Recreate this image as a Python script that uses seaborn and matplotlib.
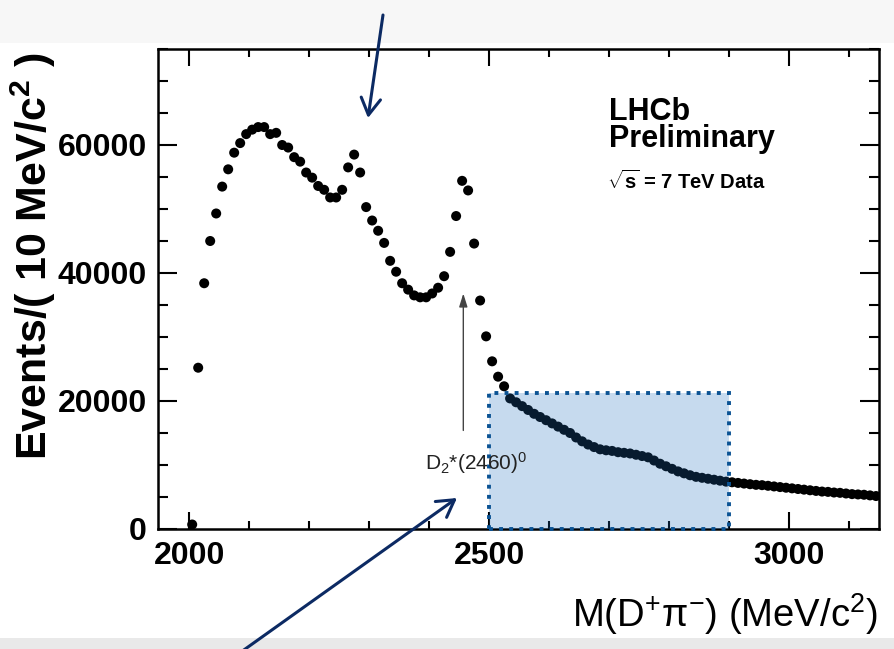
import numpy as np
import pandas as pd
import matplotlib
matplotlib.use("Agg")
import matplotlib.pyplot as plt
from matplotlib.patches import Rectangle
import seaborn as sns

# ---- data (events per 10 MeV/c^2 bin) ----
bin_start = 2005
bin_width = 10
counts = [
    700, 25200, 38400, 45000, 49300, 53500, 56200, 58800, 60300, 61700,
    62400, 62800, 62800, 61700, 61900, 60000, 59600, 58100, 57400, 55700,
    54900, 53600, 53000, 51800, 51800, 53000, 56500, 58500, 55700, 50300,
    48200, 46600, 44700, 41900, 40200, 38400, 37400, 36500, 36200, 36200,
    36800, 37700, 39500, 43300, 48900, 54400, 52900, 44600, 35700, 30100,
    26200, 23800, 22300,
    20400, 19800, 19200, 18600, 18000, 17500, 17000, 16500, 16000, 15500,
    15000, 14300, 13700, 13200, 12800, 12450, 12300, 12200, 12000, 11900,
    11800, 11600, 11400, 11200, 10700, 10200, 9800, 9400, 9000, 8700,
    8400, 8150, 8000, 7850, 7700, 7550, 7400, 7300, 7200, 7100,
    7000, 6900, 6850, 6750, 6650, 6550, 6450, 6350, 6250, 6150,
    6050, 5950, 5850, 5800, 5700, 5650, 5550, 5450, 5400, 5350,
    5250, 5150,
]
x_ticklabels = ["2000", "2500", "3000"]
x_ticks = [2000, 2500, 3000]
y_ticks = [0, 20000, 40000, 60000]
y_ticklabels = ["0", "20000", "40000", "60000"]
region = (2500, 2900, 21300)      # highlighted mass window
d2_mass = 2457                    # D2*(2460)0 arrow position
d2_arrow = (15400, 36800)

mass = bin_start + bin_width * np.arange(len(counts))
df = pd.DataFrame({"mass": mass, "events": counts})

# ---- style ----
sns.set_style("ticks")
plt.rcParams["font.family"] = ["Liberation Sans", "DejaVu Sans"]
plt.rcParams["text.color"] = "black"
plt.rcParams["xtick.color"] = "black"
plt.rcParams["ytick.color"] = "black"
plt.rcParams["axes.labelcolor"] = "black"
plt.rcParams["mathtext.fontset"] = "custom"
plt.rcParams["mathtext.rm"] = "Liberation Sans"
plt.rcParams["mathtext.it"] = "Liberation Sans:italic"
plt.rcParams["mathtext.bf"] = "Liberation Sans:bold"

W, H = 894, 649
fig = plt.figure(figsize=(W / 100, H / 100), dpi=100)
fig.patch.set_facecolor("white")

# light grey bands around the slide
fig.add_artist(Rectangle((0, 1 - 43 / H), 1, 43 / H, transform=fig.transFigure,
                         facecolor="#f7f7f7", edgecolor="none", zorder=0))
fig.add_artist(Rectangle((0, 0), 1, 11 / H, transform=fig.transFigure,
                         facecolor="#e9e9e9", edgecolor="none", zorder=0))

ax = fig.add_axes([158 / W, (H - 529) / H, (879 - 158) / W, (529 - 49) / H])
ax.set_facecolor("white")

sns.scatterplot(data=df, x="mass", y="events", ax=ax, color="black",
                s=52, linewidth=0, edgecolor="none", zorder=3, legend=False)

ax.set_xlim(1948, 3150)
ax.set_ylim(0, 75000)
ax.set_xticks(x_ticks)
ax.set_xticklabels(x_ticklabels)
ax.set_yticks(y_ticks)
ax.set_yticklabels(y_ticklabels)
ax.set_xticks(np.arange(2000, 3150, 100), minor=True)
ax.set_yticks(np.arange(0, 75001, 5000), minor=True)
ax.set_xlabel("")
ax.set_ylabel("")

for sp in ax.spines.values():
    sp.set_visible(True)
    sp.set_linewidth(1.8)
    sp.set_color("black")

ax.tick_params(axis="both", which="both", direction="in", top=True, right=True,
               color="black", labelcolor="black", width=1.5)
ax.tick_params(axis="x", which="major", length=12, pad=9)
ax.tick_params(axis="x", which="minor", length=6)
ax.tick_params(axis="y", which="major", length=14, pad=8)
ax.tick_params(axis="y", which="minor", length=7)
for lab in ax.get_xticklabels() + ax.get_yticklabels():
    lab.set_fontsize(23)
    lab.set_fontweight("bold")
    lab.set_color("black")

# highlighted region
x0, x1, ytop = region
ax.add_patch(Rectangle((x0, 0), x1 - x0, ytop,
                       facecolor=(30 / 255, 110 / 255, 190 / 255, 0.25),
                       edgecolor="#0b5394", linewidth=2.8,
                       linestyle=(0, (1, 1.6)), zorder=4, clip_on=False))

# D2* arrow and label
ax.annotate("", xy=(d2_mass, d2_arrow[1]), xytext=(d2_mass, d2_arrow[0]),
            arrowprops=dict(arrowstyle="-|>,head_length=0.8,head_width=0.25",
                            color="#444444", lw=1.0, shrinkA=0, shrinkB=0),
            zorder=5)
ax.text(2393, 10300, r"D$_{2}$*(2460)$^{0}$", fontsize=15, color="#222222",
        ha="left", va="center", zorder=6)

# LHCb labels (one two-line text block)
fig.text(609 / W, 1 - 147 / H, "LHCb\nPreliminary", fontsize=22, fontweight="bold",
         ha="left", va="baseline", linespacing=0.88, multialignment="left")
fig.text(607 / W, 1 - 189 / H, r"$\sqrt{\mathbf{s}}$ = 7 TeV Data", fontsize=14.5,
         fontweight="bold", ha="left", va="baseline")

# axis titles
fig.text(33 / W, 1 - 256 / H, r"Events/( 10 MeV/c$^{\mathbf{2}}$ )", fontsize=31,
         fontweight="bold", rotation=90, ha="center", va="center")
fig.text(878 / W, 1 - 627 / H, r"M(D$^{+}$π$^{-}$) (MeV/c$^{2}$)", fontsize=27.5,
         ha="right", va="baseline")

# navy pointer arrows (slide annotations)
navy = "#0c2a63"
ax.annotate("", xy=(368, H - 118), xycoords="figure pixels",
            xytext=(383, H - 15), textcoords="figure pixels",
            arrowprops=dict(arrowstyle="->,head_length=1.2,head_width=0.7",
                            color=navy, lw=2.2, shrinkA=0, shrinkB=0),
            annotation_clip=False)
ax.annotate("", xy=(457, H - 498), xycoords="figure pixels",
            xytext=(241, -3), textcoords="figure pixels",
            arrowprops=dict(arrowstyle="->,head_length=1.2,head_width=0.7",
                            color=navy, lw=2.2, shrinkA=0, shrinkB=0),
            annotation_clip=False)

fig.savefig("out.png", dpi=100)
